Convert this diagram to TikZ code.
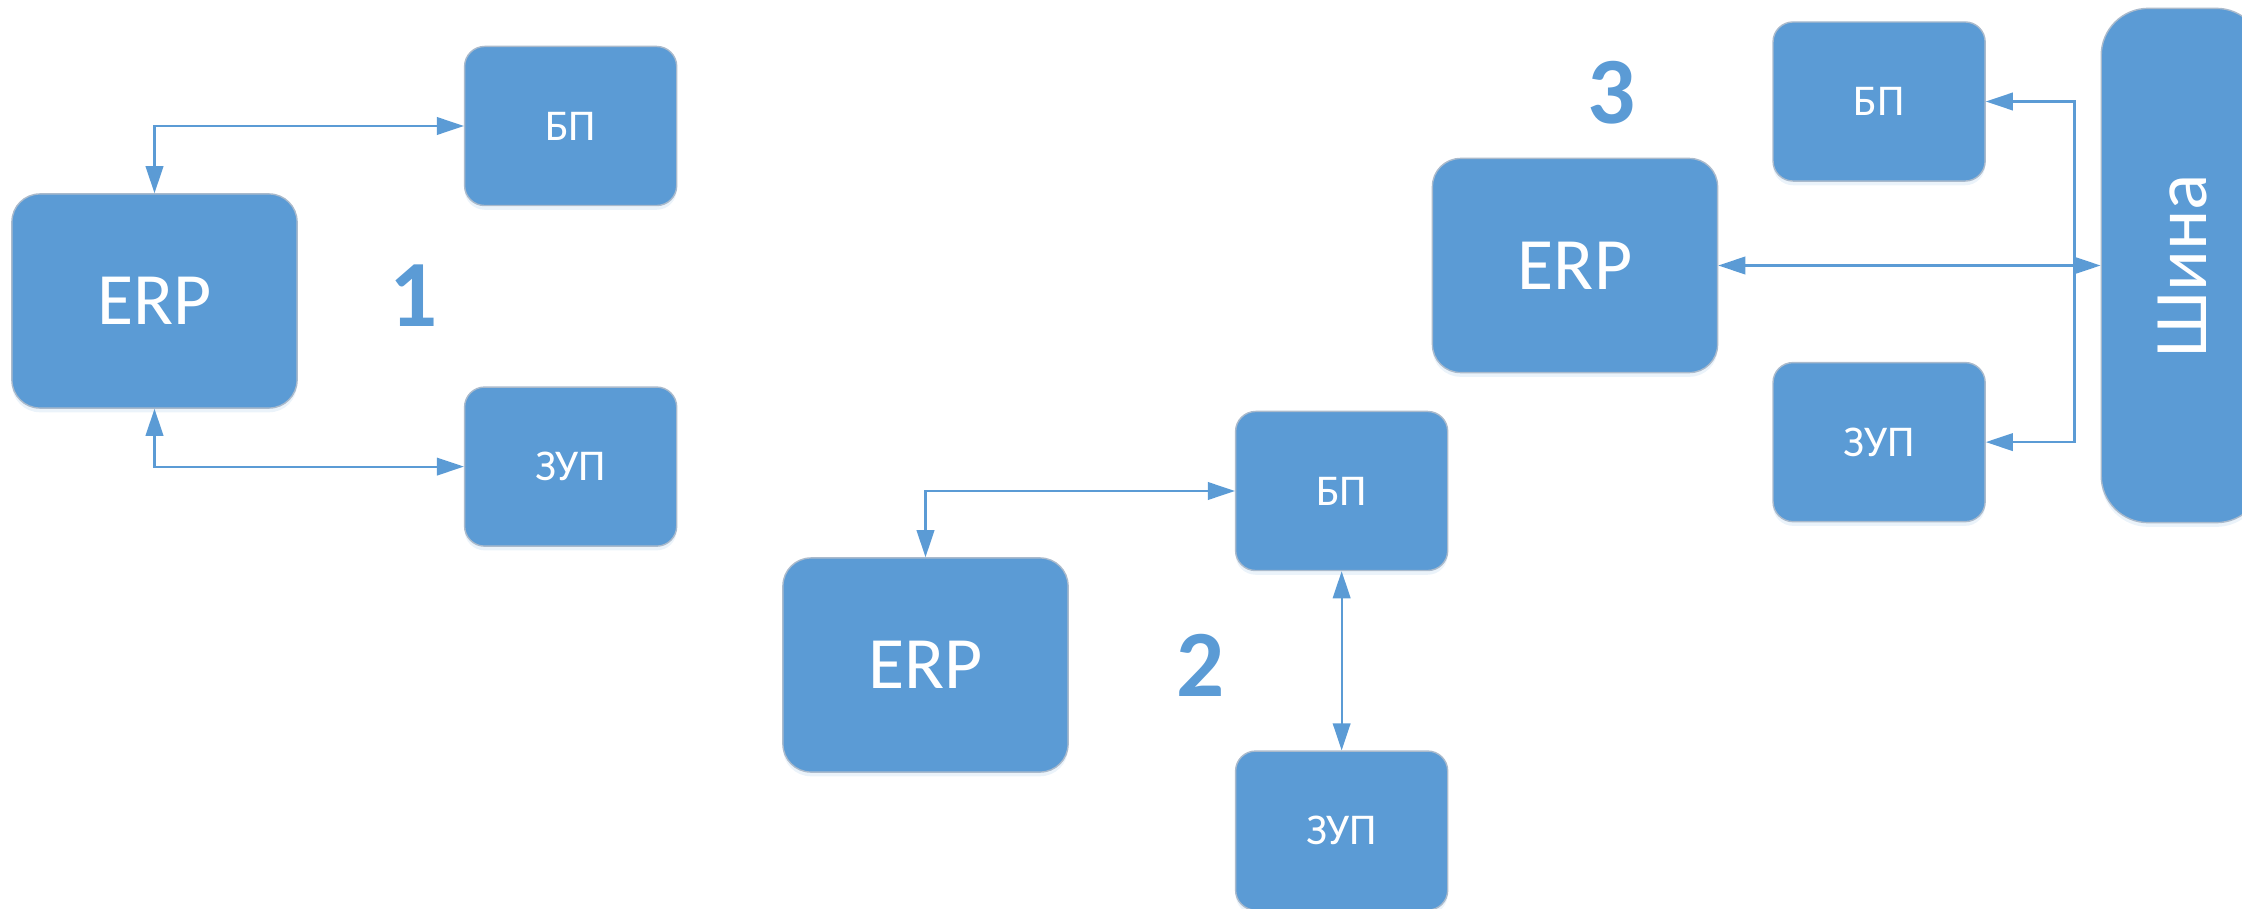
\documentclass[tikz,border=0pt]{standalone}
\usepackage{fontspec}
\setmainfont{Carlito}
\usetikzlibrary{arrows.meta, positioning, calc, shadows}
\definecolor{OfficeBlue}{RGB}{91, 155, 213}
\definecolor{EdgeGrey}{RGB}{170, 186, 204}

\tikzset{
  boxbase/.style={draw=EdgeGrey, line width=0.4pt, fill=OfficeBlue, text=white, inner sep=0pt,
    drop shadow={shadow xshift=0pt, shadow yshift=-1.2pt, opacity=0.12, fill=OfficeBlue}},
  erpbox/.style={boxbase, rounded corners=0.28cm, minimum width=2.85cm, minimum height=2.14cm,
    font=\fontsize{21}{24}\selectfont},
  subbox/.style={boxbase, rounded corners=0.2cm, minimum width=2.12cm, minimum height=1.59cm,
    font=\fontsize{12.5}{15}\selectfont},
  busbox/.style={boxbase, rounded corners=0.47cm, minimum width=1.62cm, minimum height=5.14cm},
  num/.style={text=OfficeBlue, font=\bfseries\fontsize{27}{30}\selectfont},
  link/.style={draw=OfficeBlue, line width=0.6pt,
    {Triangle[length=7.7pt, width=5pt]}-{Triangle[length=7.7pt, width=5pt]}},
  feed/.style={draw=OfficeBlue, line width=0.6pt, -{Triangle[length=7.7pt, width=5pt]}}
}

\begin{document}
\begin{tikzpicture}[x=0.01cm, y=-0.01cm]
  \useasboundingbox (0,0) rectangle (2242,909);
  \clip (0,0) rectangle (2242,909);

  % scheme 1
  \node[erpbox] (erp1) at (154.5,301) {ERP};
  \node[subbox, above right=-0.13cm and 1.66cm of erp1] (bp1) {БП};
  \node[subbox, below=1.8cm of bp1] (zup1) {ЗУП};
  \node[num] (num1) at (414,296) {1};
  \draw[link] (erp1.north) |- (bp1.west);
  \draw[link] (erp1.south) |- (zup1.west);

  % scheme 2
  \node[erpbox] (erp2) at (925.5,665) {ERP};
  \node[subbox, above right=-0.14cm and 1.66cm of erp2] (bp2) {БП};
  \node[subbox, below=1.79cm of bp2] (zup2) {ЗУП};
  \node[num] (num2) at (1201,665) {2};
  \draw[link] (erp2.north) |- (bp2.west);
  \draw[link] (bp2.south) -- (zup2.north);

  % scheme 3
  \node[erpbox] (erp3) at (1575,265.5) {ERP};
  \node[subbox, above right=-0.24cm and 0.54cm of erp3] (bp3) {БП};
  \node[subbox, below=1.8cm of bp3] (zup3) {ЗУП};
  \node[busbox, right=3.82cm of erp3,
    label={[rotate=90, text=white, font=\fontsize{21.5}{24}\selectfont]center:Шина}] (bus) {};
  \node[num] (num3) at (1612,93) {3};
  \coordinate (tap) at ([xshift=-0.26cm]bus.west);
  \draw[link] (erp3.east) -- (bus.west);
  \draw[feed] (tap) |- (bp3.east);
  \draw[feed] (tap) |- (zup3.east);
\end{tikzpicture}
\end{document}
